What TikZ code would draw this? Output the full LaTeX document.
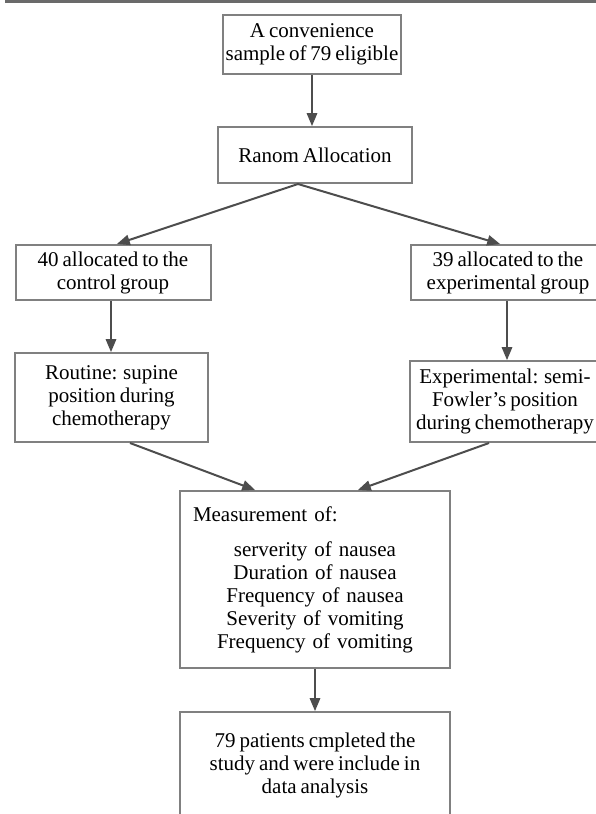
\documentclass[tikz,border=0pt]{standalone}
\usepackage{fontspec}
\setmainfont{Liberation Serif}[WordSpace=0.75]
\usetikzlibrary{arrows}
\definecolor{boxgray}{HTML}{808080}
\definecolor{linegray}{HTML}{4D4D4D}
\definecolor{rulegray}{HTML}{6A6A6A}

\begin{document}
\begin{tikzpicture}[x=1pt, y=-1pt,
    box/.style={draw=boxgray, line width=2pt, inner sep=0pt, align=center,
      font=\fontsize{21}{23}\selectfont},
    arr/.style={draw=linegray, line width=2pt, -triangle 45}]
      \useasboundingbox (0,0) rectangle (596,814);
      \draw[rulegray, line width=2.6pt] (5,1.3) -- (596,1.3);
      % boxes
      \node[box, minimum width=178pt, minimum height=59pt] (sample) at (312,44.5) {A convenience\\sample of 79 eligible};
      \node[box, minimum width=194pt, minimum height=56pt] (alloc) at (315,155) {Ranom Allocation};
      \node[box, minimum width=195pt, minimum height=55pt] (ctrl) at (113,272.5) {40 allocated to the\\control group};
      \node[box, minimum width=195pt, minimum height=55pt] (exp) at (508,272.5) {39 allocated to the\\experimental group};
      \node[box, minimum width=193pt, minimum height=89pt] (routine) at (111.5,397.5) {Routine: supine\\position during\\chemotherapy};
      \node[box, minimum width=190pt, minimum height=81pt] (fowler) at (505,401.5) {Experimental: semi-\\Fowler's position\\during chemotherapy};
      \node[box, minimum width=270pt, minimum height=177pt, text width=244pt, align=left] (measure) at (315,579.5)
        {Measurement of:\par\vspace{12pt}{\centering serverity of nausea\\Duration of nausea\\Frequency of nausea\\Severity of vomiting\\Frequency of vomiting\par}};
      \node[box, minimum width=270pt, minimum height=106pt] (final) at (315,765) {79 patients cmpleted the\\study and were include in\\data analysis};
      % arrows
      \draw[arr] (sample.south) -- (sample.south |- alloc.north);
      \draw[arr] ([xshift=-17pt]alloc.south) -- ([xshift=4pt]ctrl.north);
      \draw[arr] ([xshift=-17pt]alloc.south) -- ([xshift=-8pt]exp.north);
      \draw[arr] ([xshift=-2pt]ctrl.south) -- ([xshift=-2pt]ctrl.south |- routine.north);
      \draw[arr] ([xshift=-1pt]exp.south) -- ([xshift=-1pt]exp.south |- fowler.north);
      \draw[arr] ([xshift=18.5pt]routine.south) -- ([xshift=-60pt]measure.north);
      \draw[arr] ([xshift=-16pt]fowler.south) -- ([xshift=43pt]measure.north);
      \draw[arr] (measure.south) -- (measure.south |- final.north);
    \end{tikzpicture}
\end{document}
